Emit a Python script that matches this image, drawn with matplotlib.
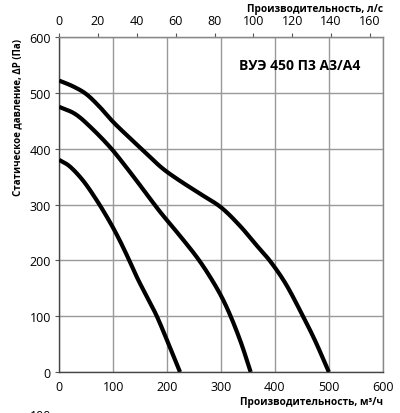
import numpy as np
import matplotlib.pyplot as plt

plt.rcParams['font.family'] = ['Open Sans', 'DejaVu Sans']

# characteristic curves, m3/h vs Pa
q_low = [0, 20, 45, 70, 92, 110, 128, 145, 163, 181, 202, 224]
p_low = [380, 368, 342, 307, 272, 240, 204, 168, 134, 100, 52, 0]

q_mid = [0, 30, 60, 95, 125, 155, 187, 223, 255, 280, 302, 320, 338, 355]
p_mid = [475, 462, 437, 402, 366, 328, 287, 245, 206, 170, 133, 95, 50, 0]

q_high = [0, 25, 50, 75, 100, 130, 160, 190, 220, 260, 300, 335, 365, 390,
          420, 452, 475, 500]
p_high = [522, 512, 498, 475, 448, 420, 393, 366, 345, 320, 295, 262, 228, 200,
          158, 100, 55, 0]

x_ticks = [0, 100, 200, 300, 400, 500, 600]
y_ticks = [0, 100, 200, 300, 400, 500, 600]
ls_ticks = [0, 20, 40, 60, 80, 100, 120, 140, 160]

title = 'ВУЭ 450 П3 А3/А4'


def catmull_rom(q, p, n=30):
    pts = np.column_stack([q, p]).astype(float)
    pts = np.vstack([2 * pts[0] - pts[1], pts, 2 * pts[-1] - pts[-2]])
    out = []
    t = np.linspace(0, 1, n, endpoint=False)[:, None]
    for i in range(1, len(pts) - 2):
        p0, p1, p2, p3 = pts[i - 1], pts[i], pts[i + 1], pts[i + 2]
        seg = 0.5 * ((2 * p1) + (-p0 + p2) * t
                     + (2 * p0 - 5 * p1 + 4 * p2 - p3) * t ** 2
                     + (-p0 + 3 * p1 - 3 * p2 + p3) * t ** 3)
        out.append(seg)
    out.append(pts[-2][None, :])
    out = np.vstack(out)
    return out[:, 0], out[:, 1]


fig = plt.figure(figsize=(4.0, 4.14), dpi=100)
ax = fig.add_axes([0.148, 0.099, 0.809, 0.809])

for q, p in [(q_low, p_low), (q_mid, p_mid), (q_high, p_high)]:
    xs, ys = catmull_rom(q, p)
    ax.plot(xs, ys, color='black', lw=3.0, solid_capstyle='butt', zorder=3)

ax.set_xlim(0, 600)
ax.set_ylim(0, 600)
ax.set_xticks(x_ticks)
ax.set_yticks(y_ticks)
ax.grid(color='#999999', lw=1.0, zorder=1)
ax.tick_params(axis='x', length=0, labelsize=9, pad=6)
ax.tick_params(axis='y', length=3, width=0.8, color='#555555', labelsize=9, pad=3)
for s in ax.spines.values():
    s.set_color('#888888')
    s.set_linewidth(1.0)
ax.spines['left'].set_color('#444444')
ax.spines['bottom'].set_color('#444444')

top = ax.secondary_xaxis('top', functions=(lambda v: v / 3.6, lambda v: v * 3.6))
top.set_xticks(ls_ticks)
top.tick_params(length=3, width=0.8, color='#555555', labelsize=9, pad=4)
top.spines['top'].set_color('#888888')

ax.text(0.93, 0.916, title, transform=ax.transAxes, ha='right', va='center',
        fontsize=10, fontweight='bold')

fig.text(0.957, 0.978, 'Производительность, л/с', ha='right', va='center',
         fontsize=7.3, fontweight='bold')
fig.text(0.957, 0.027, 'Производительность, м³/ч', ha='right', va='center',
         fontsize=7.3, fontweight='bold')
fig.text(0.045, 0.715, 'Статическое давление, ΔP (Па)', rotation=90, ha='center',
         va='center', fontsize=7, fontweight='bold')
fig.text(0.075, -0.022, '100', ha='left', va='bottom', fontsize=9)

fig.savefig('out.png', dpi=100)
